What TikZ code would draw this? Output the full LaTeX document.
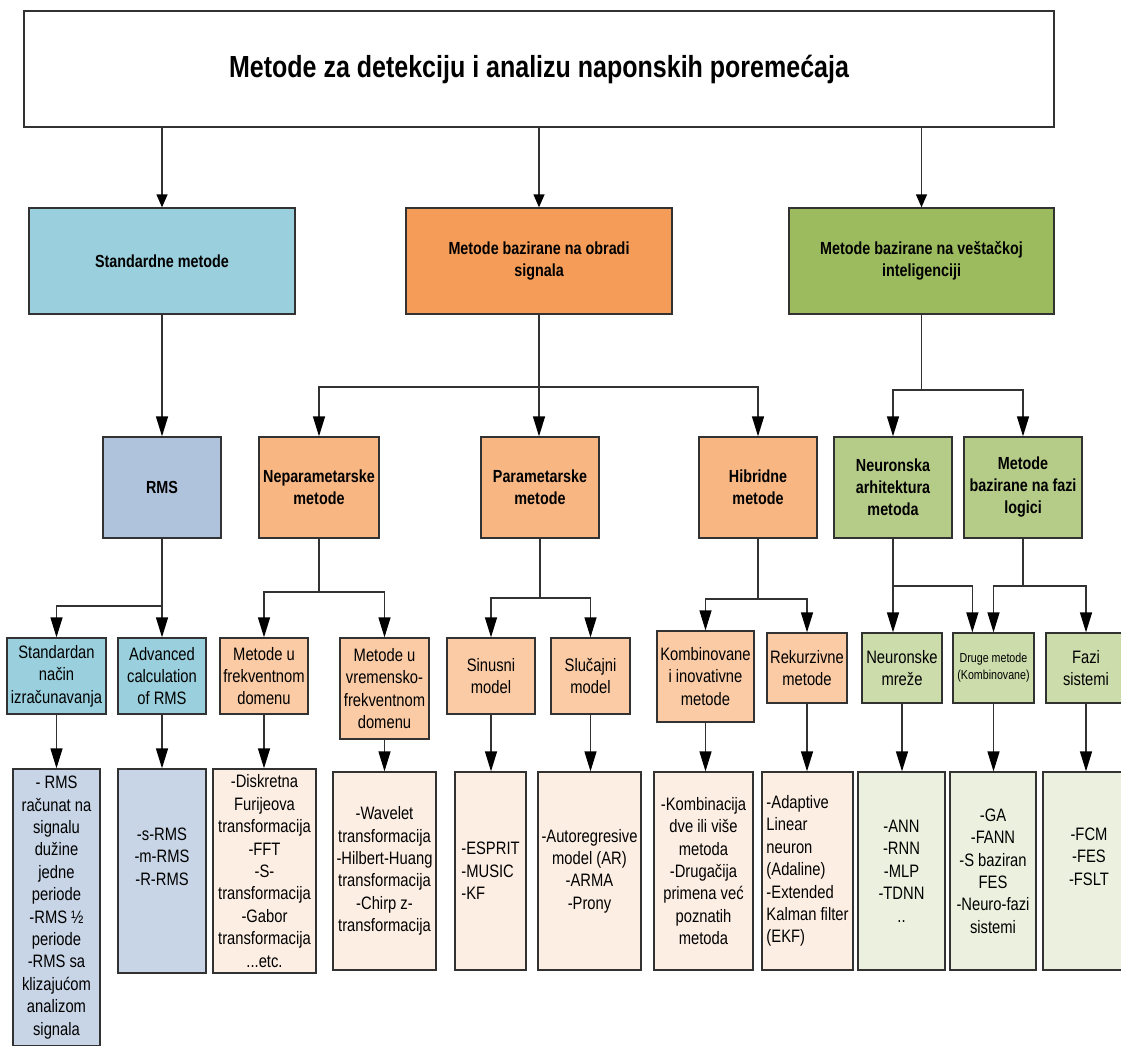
\documentclass[tikz,border=0pt]{standalone}
\usepackage{fontspec}
\setmainfont[FakeStretch=0.82]{Liberation Sans}
\usetikzlibrary{arrows.meta}

\definecolor{linegray}{RGB}{50,50,50}
\definecolor{stdblue}{RGB}{154,208,221}
\definecolor{rmsblue}{RGB}{176,195,221}
\definecolor{leafblue}{RGB}{200,213,230}
\definecolor{sigorange}{RGB}{245,157,88}
\definecolor{midorange}{RGB}{248,182,131}
\definecolor{loworange}{RGB}{250,203,165}
\definecolor{leaforange}{RGB}{253,238,227}
\definecolor{aigreen}{RGB}{155,187,94}
\definecolor{midgreen}{RGB}{181,203,136}
\definecolor{lowgreen}{RGB}{204,220,171}
\definecolor{leafgreen}{RGB}{235,241,222}

\begin{document}
\begin{tikzpicture}[x=1pt,y=-1pt,
  box/.style={draw=linegray, line width=1.3pt, inner sep=2pt, align=center,
    font=\fontsize{18}{22.4}\selectfont},
  headbox/.style={box, font=\bfseries\fontsize{17.5}{22}\selectfont},
  link/.style={draw=linegray, line width=1.3pt},
  arr/.style={link, -{Triangle[width=12pt,length=20pt,color=black]}},
  toparr/.style={link, -{Triangle[width=11pt,length=13pt,color=black]}}
]
\useasboundingbox (0,0) rectangle (1121,1046);
\fill[white] (0,0) rectangle (1121,1046);

% title
\node[box, minimum width=1030pt, minimum height=116pt,
  font=\bfseries\fontsize{30.5}{36}\selectfont] (title) at (539,69)
  {Metode za detekciju i analizu naponskih poremećaja};

% first level
\node[headbox, fill=stdblue, minimum width=266pt, minimum height=106pt] (std) at (162,261)
  {Standardne metode};
\node[headbox, fill=sigorange, minimum width=266pt, minimum height=106pt] (sig) at (539,261)
  {Metode bazirane na obradi\\signala};
\node[headbox, fill=aigreen, minimum width=265pt, minimum height=106pt] (ai) at (921.5,261)
  {Metode bazirane na veštačkoj\\inteligenciji};

% second level
\node[headbox, fill=rmsblue, minimum width=118pt, minimum height=101pt] (rms) at (162,487.5) {RMS};
\node[headbox, fill=midorange, minimum width=120pt, minimum height=101pt] (nep) at (319,487.5)
  {Neparametarske\\metode};
\node[headbox, fill=midorange, minimum width=118pt, minimum height=101pt] (par) at (540,487.5)
  {Parametarske\\metode};
\node[headbox, fill=midorange, minimum width=118pt, minimum height=101pt] (hib) at (758,487.5)
  {Hibridne\\metode};
\node[headbox, fill=midgreen, minimum width=118pt, minimum height=101pt] (neu) at (893,487.5)
  {Neuronska\\arhitektura\\metoda};
\node[headbox, fill=midgreen, minimum width=118pt, minimum height=101pt] (faz) at (1023,487.5)
  {Metode\\bazirane na fazi\\logici};

% third level
\node[box, fill=stdblue, minimum width=99pt, minimum height=76pt] (stdn) at (56.5,676)
  {Standardan\\način\\izračunavanja};
\node[box, fill=stdblue, minimum width=88pt, minimum height=76pt] (adv) at (162,676)
  {Advanced\\calculation\\of RMS};
\node[box, fill=loworange, minimum width=88pt, minimum height=76pt] (frek) at (264,676)
  {Metode u\\frekventnom\\domenu};
\node[box, fill=loworange, minimum width=89pt, minimum height=101pt] (vrem) at (384.5,688.5)
  {Metode u\\vremensko-\\frekventnom\\domenu};
\node[box, fill=loworange, minimum width=88pt, minimum height=76pt] (sin) at (491,676)
  {Sinusni\\model};
\node[box, fill=loworange, minimum width=79pt, minimum height=76pt] (slu) at (590.5,676)
  {Slučajni\\model};
\node[box, fill=loworange, minimum width=97pt, minimum height=91pt] (kom) at (705.5,676.5)
  {Kombinovane\\i inovativne\\metode};
\node[box, fill=loworange, minimum width=80pt, minimum height=70pt] (rek) at (807,668)
  {Rekurzivne\\metode};
\node[box, fill=lowgreen, minimum width=80pt, minimum height=70pt] (nmr) at (902,668)
  {Neuronske\\mreže};
\node[box, fill=lowgreen, minimum width=81pt, minimum height=70pt,
  font=\fontsize{13}{17}\selectfont] (dru) at (993.5,668)
  {Druge metode\\(Kombinovane)};
\node[box, fill=lowgreen, minimum width=80pt, minimum height=70pt] (fsi) at (1086,668)
  {Fazi\\sistemi};

% leaves
\node[box, fill=leafblue, minimum width=87pt, minimum height=277pt] (rmsl) at (56.5,907.5)
  {- RMS\\računat na\\signalu\\dužine\\jedne\\periode\\-RMS ½\\periode\\-RMS sa\\klizajućom\\analizom\\signala};
\node[box, fill=leafblue, minimum width=88pt, minimum height=204pt] (srms) at (162,871)
  {-s-RMS\\-m-RMS\\-R-RMS\\\strut};
\node[box, fill=leaforange, minimum width=103pt, minimum height=204pt] (disk) at (264.5,871)
  {-Diskretna\\Furijeova\\transformacija\\-FFT\\-S-\\transformacija\\-Gabor\\transformacija\\...etc.};
\node[box, fill=leaforange, minimum width=103pt, minimum height=198pt] (wav) at (384.5,871)
  {-Wavelet\\transformacija\\-Hilbert-Huang\\transformacija\\-Chirp z-\\transformacija};
\node[box, fill=leaforange, minimum width=71pt, minimum height=198pt, align=left] (esp) at (490.5,871)
  {-ESPRIT\\-MUSIC\\-KF};
\node[box, fill=leaforange, minimum width=103pt, minimum height=198pt] (aut) at (589.5,871)
  {-Autoregresive\\model (AR)\\-ARMA\\-Prony};
\node[box, fill=leaforange, minimum width=99pt, minimum height=198pt] (kmb) at (703.5,871)
  {-Kombinacija\\dve ili više\\metoda\\-Drugačija\\primena već\\poznatih\\metoda};
\node[box, fill=leaforange, minimum width=91pt, minimum height=198pt, align=left] (ada) at (807.5,871)
  {-Adaptive\\Linear\\neuron\\(Adaline)\\-Extended\\Kalman filter\\(EKF)};
\node[box, fill=leafgreen, minimum width=87pt, minimum height=198pt] (ann) at (901.5,871)
  {-ANN\\-RNN\\-MLP\\-TDNN\\..};
\node[box, fill=leafgreen, minimum width=86pt, minimum height=198pt] (ga) at (993,871)
  {-GA\\-FANN\\-S baziran\\FES\\-Neuro-fazi\\sistemi};
\node[box, fill=leafgreen, minimum width=92pt, minimum height=198pt] (fcm) at (1089,871)
  {-FCM\\-FES\\-FSLT\\\strut};

% title to first level
\draw[toparr] (title.south -| std.north) -- (std.north);
\draw[toparr] (title.south -| sig.north) -- (sig.north);
\draw[toparr] (title.south -| ai.north) -- (ai.north);

% first level to second level
\draw[arr] (std.south) -- (rms.north);
\coordinate (sigj) at (539,387);
\draw[arr] (sig.south) -- (sig.south |- par.north);
\draw[arr] (sigj) -| (nep.north);
\draw[arr] (sigj) -| (hib.north);
\coordinate (aij) at (921.5,390);
\draw[link] (ai.south) -- (aij);
\draw[arr] (aij) -| (neu.north);
\draw[arr] (aij) -| (faz.north);

% second level to third level
\coordinate (rmsj) at (162,606);
\draw[arr] (rms.south) -- (rms.south |- adv.north);
\draw[arr] (rmsj) -| (stdn.north);

\coordinate (nepj) at (319,592);
\draw[link] (nep.south) -- (nepj);
\draw[arr] (nepj) -| (frek.north);
\draw[arr] (nepj) -| (vrem.north);

\coordinate (parj) at (540,598);
\draw[link] (par.south) -- (parj);
\draw[arr] (parj) -| (sin.north);
\draw[arr] (parj) -| (slu.north);

\coordinate (hibj) at (758,599);
\draw[link] (hib.south) -- (hibj);
\draw[arr] (hibj) -| (kom.north);
\draw[arr] (hibj) -| (rek.north);

\coordinate (neuj) at (893,586);
\draw[link] (neu.south) -- (neuj);
\draw[arr] (neuj) -- (neuj |- nmr.north);
\draw[arr] (neuj) -| ([xshift=20pt]dru.north west);

\coordinate (fazj) at (1023,586);
\draw[link] (faz.south) -- (fazj);
\draw[arr] (fazj) -| (dru.north);
\draw[arr] (fazj) -| (fsi.north);

% third level to leaves
\foreach \a/\b in {stdn/rmsl, adv/srms, frek/disk, vrem/wav, sin/esp, slu/aut,
                   kom/kmb, rek/ada, nmr/ann, dru/ga, fsi/fcm}
  \draw[arr] (\a.south) -- (\a.south |- \b.north);
\end{tikzpicture}
\end{document}
